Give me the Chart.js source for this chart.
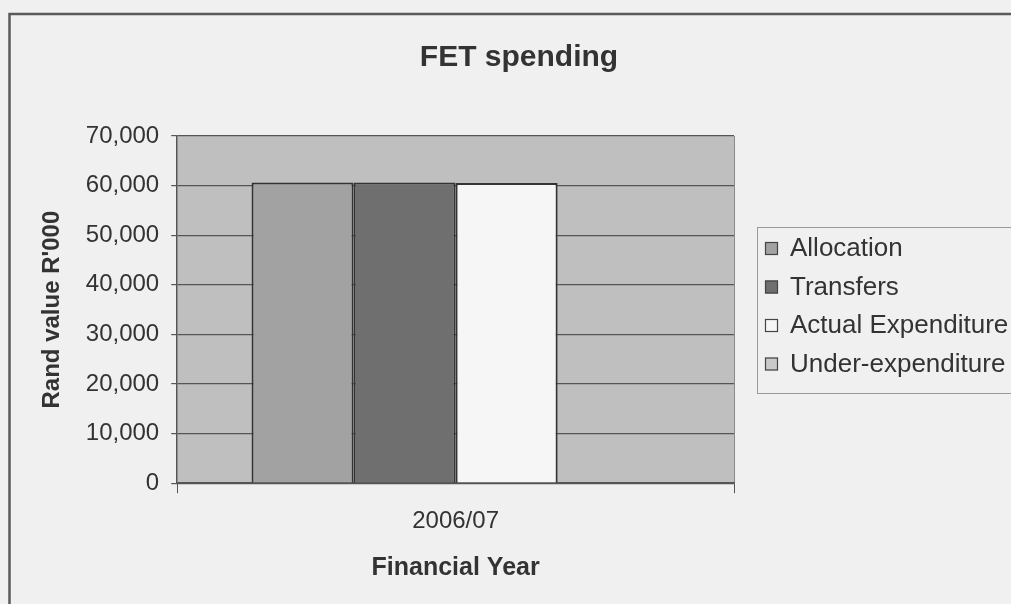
<!DOCTYPE html>
<html>
<head>
<meta charset="utf-8">
<title>FET spending</title>
<script src="https://cdn.jsdelivr.net/npm/chart.js@4"></script>
<style>
  html, body { margin: 0; padding: 0; background: #f0f0f0; overflow: hidden; }
  #wrap { width: 1011px; height: 604px; position: relative; }
</style>
</head>
<body>
<div id="wrap"><canvas id="fetChart" width="1011" height="604"></canvas></div>
<script>
var chartTitle = "FET spending";
var years = ["2006/07"];
var seriesNames = ["Allocation", "Transfers", "Actual Expenditure", "Under-expenditure"];
var allocation = [60600];
var transfers = [60600];
var actualExp = [60500];
var underExp = [0];
var yTicks = [0, 10000, 20000, 30000, 40000, 50000, 60000, 70000];

var fills = ["#a2a2a2", "#6f6f6f", "#f6f6f6", "#c9c9c9"];
var values = [allocation, transfers, actualExp, underExp];
var fontFam = "'Liberation Sans', Arial, sans-serif";

var datasets = [];
for (var i = 0; i < seriesNames.length; i++) {
  datasets.push({
    label: seriesNames[i],
    data: values[i],
    backgroundColor: fills[i],
    borderColor: "#333",
    borderWidth: 2,
    categoryPercentage: 0.733,
    barPercentage: 1
  });
}

// grey plot area, outer frame and the title
var plotBg = {
  id: "plotBg",
  beforeDraw: function(chart) {
    var c = chart.ctx, a = chart.chartArea;
    c.save();
    c.fillStyle = "#f0f0f0";
    c.fillRect(0, 0, chart.width, chart.height);
    c.strokeStyle = "#5a5a5a";
    c.lineWidth = 2.5;
    c.beginPath();
    c.moveTo(9.5, chart.height + 5);
    c.lineTo(9.5, 14);
    c.lineTo(chart.width + 5, 14);
    c.stroke();
    c.fillStyle = "#bfbfbf";
    c.fillRect(a.left, a.top, a.right - a.left, a.bottom - a.top);
    c.strokeStyle = "#8a8a8a";
    c.lineWidth = 1;
    c.beginPath();
    c.moveTo(a.right + 0.5, a.top);
    c.lineTo(a.right + 0.5, a.bottom);
    c.stroke();
    c.fillStyle = "#333";
    c.font = "bold 30px " + fontFam;
    c.textAlign = "center";
    c.textBaseline = "middle";
    c.fillText(chartTitle, 519, 58);
    c.restore();
  }
};

// boxed legend on the right, runs off the edge
var boxLegend = {
  id: "boxLegend",
  afterDraw: function(chart) {
    var c = chart.ctx;
    var ds = chart.data.datasets;
    var x0 = 757, y0 = 227, rowH = 38.5;
    c.save();
    c.strokeStyle = "#9a9a9a";
    c.lineWidth = 1;
    c.strokeRect(x0 + 0.5, y0 + 0.5, 300, 166);
    c.font = "26px " + fontFam;
    c.textBaseline = "middle";
    for (var i = 0; i < ds.length; i++) {
      var cy = y0 + 21 + i * rowH;
      c.fillStyle = ds[i].backgroundColor;
      c.fillRect(765, cy - 6, 13, 13);
      c.strokeStyle = "#444";
      c.lineWidth = 1.2;
      c.strokeRect(765.5, cy - 5.5, 12, 12);
      c.fillStyle = "#333";
      c.fillText(ds[i].label, 790, cy + 1);
    }
    c.restore();
  }
};

var ctx = document.getElementById("fetChart").getContext("2d");
var fetChart = new Chart(ctx, {
  type: "bar",
  data: { labels: years, datasets: datasets },
  plugins: [plotBg, boxLegend],
  options: {
    responsive: false,
    animation: false,
    layout: { padding: { left: 0, right: 277, top: 136, bottom: 21 } },
    plugins: {
      legend: { display: false },
      tooltip: { enabled: false },
      title: { display: false }
    },
    scales: {
      x: {
        offset: true,
        grid: { drawOnChartArea: false, drawTicks: true, tickLength: 10, color: "#555", tickColor: "#555" },
        border: { color: "#555", width: 1.5 },
        ticks: { color: "#333", padding: 14, font: { family: fontFam, size: 24 } },
        title: {
          display: true,
          text: "Financial Year",
          color: "#333",
          font: { family: fontFam, size: 25, weight: "bold" },
          padding: { top: 3, bottom: 0 }
        }
      },
      y: {
        min: 0,
        max: 70000,
        afterBuildTicks: function(axis) {
          axis.ticks = yTicks.map(function(v) { return { value: v }; });
        },
        grid: { color: "#555", lineWidth: 1.2, tickLength: 6, tickColor: "#555" },
        border: { color: "#555", width: 1.5 },
        ticks: {
          color: "#333",
          padding: 12,
          font: { family: fontFam, size: 24 },
          callback: function(v) { return v.toLocaleString("en-US"); }
        },
        title: {
          display: true,
          text: "Rand value R'000",
          color: "#333",
          font: { family: fontFam, size: 24, weight: "bold" },
          padding: { top: 38, bottom: 7 }
        }
      }
    }
  }
});
</script>
</body>
</html>
